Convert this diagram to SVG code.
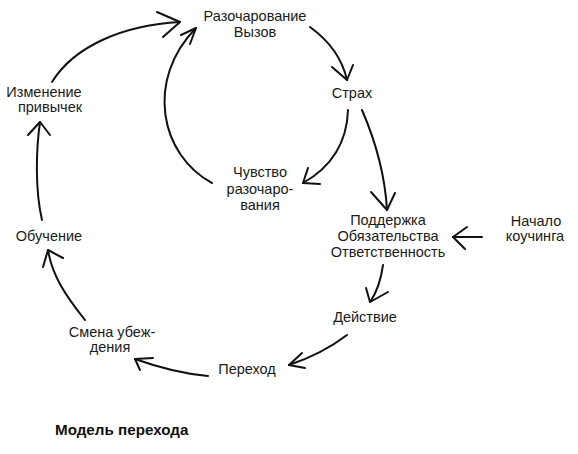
<svg xmlns="http://www.w3.org/2000/svg" width="578" height="454" viewBox="0 0 578 454">
<style>
.t{font-family:"Liberation Sans",Arial,sans-serif;font-size:14.5px;fill:#1a1a1a;text-anchor:middle}
.b{font-family:"Liberation Sans",Arial,sans-serif;font-size:15.2px;font-weight:bold;fill:#111}
.c{fill:none;stroke:#111;stroke-width:2;stroke-linecap:round;stroke-linejoin:round}
</style>
<rect width="578" height="454" fill="#fff"/>
<g id="connectors">
<path class="c" d="M310,27 C328,40 342,58 347,80"/><path class="c" d="M332,67 L347,80 L353,65"/>
<path class="c" d="M348,110 C347,140 335,165 303,183"/><path class="c" d="M308,168 L303,183 L320,184"/>
<path class="c" d="M362,110 C375,140 385,175 387,210"/><path class="c" d="M371,192 L387,210 L395,193"/>
<path class="c" d="M212,183 C160,155 145,80 196,28"/><path class="c" d="M181,35 L196,28 L190,44"/>
<path class="c" d="M52,82 C75,45 125,25 180,22"/><path class="c" d="M157,12 L180,22 L163,37"/>
<path class="c" d="M42,220 C35,190 36,150 40,122"/><path class="c" d="M28,135 L40,122 L50,135"/>
<path class="c" d="M85,320 C65,295 52,275 48,250"/><path class="c" d="M43,267 L48,250 L63,258"/>
<path class="c" d="M482,237 L453,237"/><path class="c" d="M467,227 L453,237 L465,249"/>
<path class="c" d="M383,265 C381,280 377,292 370,302"/><path class="c" d="M366,288 L370,302 L388,292"/>
<path class="c" d="M347,335 C330,348 310,358 289,365"/><path class="c" d="M302,353 L289,365 L305,368"/>
<path class="c" d="M208,376 C185,374 160,368 135,359"/><path class="c" d="M140,370 L135,359 L153,358"/>
</g>
<g id="razocharovanie"><text class="t" x="255" y="21">Разочарование</text><text class="t" x="255" y="37">Вызов</text></g>
<g id="strakh"><text class="t" x="352" y="98">Страх</text></g>
<g id="izmenenie"><text class="t" x="44" y="97">Изменение</text><text class="t" x="50" y="112">привычек</text></g>
<g id="chuvstvo"><text class="t" x="260" y="177">Чувство</text><text class="t" x="260" y="193.5">разочаро-</text><text class="t" x="260" y="210">вания</text></g>
<g id="obuchenie"><text class="t" x="49" y="241">Обучение</text></g>
<g id="podderzhka"><text class="t" x="388" y="225">Поддержка</text><text class="t" x="388" y="241">Обязательства</text><text class="t" x="388" y="257">Ответственность</text></g>
<g id="nachalo"><text class="t" x="536" y="226">Начало</text><text class="t" x="535" y="241">коучинга</text></g>
<g id="deystvie"><text class="t" x="365" y="322">Действие</text></g>
<g id="smena"><text class="t" x="112" y="337">Смена убеж-</text><text class="t" x="110" y="352">дения</text></g>
<g id="perekhod"><text class="t" x="247" y="374">Переход</text></g>
<text class="b" x="55" y="435">Модель перехода</text>
</svg>
